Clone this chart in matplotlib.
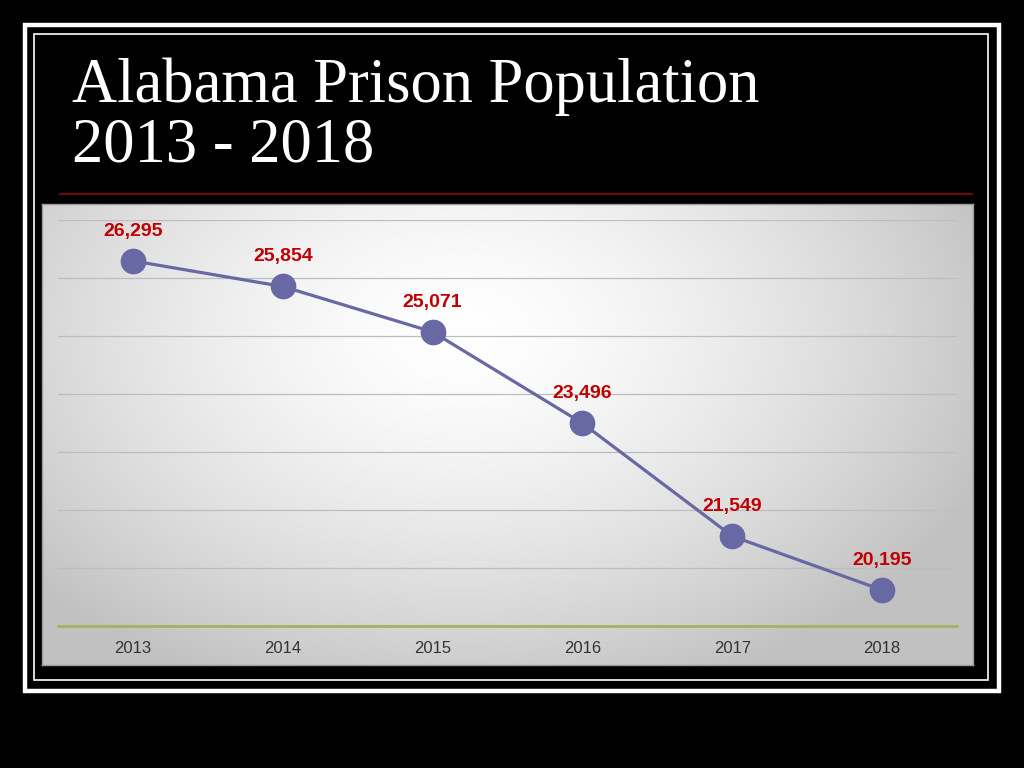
import numpy as np
import matplotlib
matplotlib.use("Agg")
import matplotlib.pyplot as plt
from matplotlib.patches import Rectangle

# ---- data ----
title_lines = ["Alabama Prison Population", "2013 - 2018"]
years = ["2013", "2014", "2015", "2016", "2017", "2018"]
values = [26295, 25854, 25071, 23496, 21549, 20620]   # marker heights as drawn
value_labels = ["26,295", "25,854", "25,071", "23,496", "21,549", "20,195"]
y_ticks = [20000, 21000, 22000, 23000, 24000, 25000, 26000, 27000]

W, H = 1024, 768
fig = plt.figure(figsize=(W / 100, H / 100), dpi=100, facecolor="black")

def px_axes(x0, y0, x1, y1, **kw):
    return fig.add_axes([x0 / W, 1 - y1 / H, (x1 - x0) / W, (y1 - y0) / H], **kw)

# decoration layer
deco = px_axes(0, 0, W, H)
deco.set_xlim(0, W)
deco.set_ylim(H, 0)
deco.axis("off")
deco.add_patch(Rectangle((25, 25), 974, 666, fill=False, ec="white", lw=3.2))
deco.add_patch(Rectangle((33.5, 33.5), 954.5, 646.5, fill=False, ec="white", lw=1.2))
deco.plot([60, 972], [194, 194], color="#6e0a0a", lw=1.5)
deco.text(72, 102, title_lines[0], color="white", fontsize=45,
          family="Liberation Serif", va="baseline", ha="left")
deco.text(72, 162, title_lines[1], color="white", fontsize=45,
          family="Liberation Serif", va="baseline", ha="left")

# panel with radial gradient
panel = px_axes(42, 204, 973, 665)
pw, ph = 931, 461
xx, yy = np.meshgrid(np.linspace(0, 1, pw), np.linspace(0, 1, ph))
r = np.sqrt(((xx - 0.45) / 0.62) ** 2 + ((yy - 0.28) / 0.85) ** 2)
inten = np.clip(1.0 - 0.25 * r ** 1.5, 0.76, 1.0)
img = np.dstack([inten, inten, inten])
panel.imshow(img, extent=[0, 1, 0, 1], aspect="auto", origin="upper")
panel.set_xticks([])
panel.set_yticks([])
for s in panel.spines.values():
    s.set_color("#9a9a9a")
    s.set_linewidth(1.0)

# plot axes
ax = px_axes(58, 220, 957, 626)
ax.set_facecolor("none")
x = np.arange(len(years))
ax.set_xlim(-0.5, len(years) - 0.5)
ax.set_ylim(min(y_ticks), max(y_ticks))
for yt in y_ticks[1:]:
    ax.axhline(yt, color="#bdbdbd", lw=0.9, zorder=1)
ax.axhline(y_ticks[0], color="#a7b062", lw=2.0, zorder=2, clip_on=False)
ax.plot(x, values, color="#6868a4", lw=2.3, marker="o", markersize=17.5,
        markerfacecolor="#6868a4", markeredgecolor="#6868a4", zorder=3,
        clip_on=False)
for xi, v, lab in zip(x, values, value_labels):
    ax.annotate(lab, (xi, v), xytext=(0, 21.5), textcoords="offset points",
                ha="center", va="center", color="#c00000", fontsize=14,
                fontweight="bold", family="Liberation Sans")
ax.set_xticks(x)
ax.set_xticklabels(years, family="Liberation Sans", fontsize=12, color="#333333")
ax.tick_params(axis="x", length=0, pad=10.5)
ax.set_yticks([])
for s in ax.spines.values():
    s.set_visible(False)

fig.savefig("out.png", dpi=100, facecolor="black")
